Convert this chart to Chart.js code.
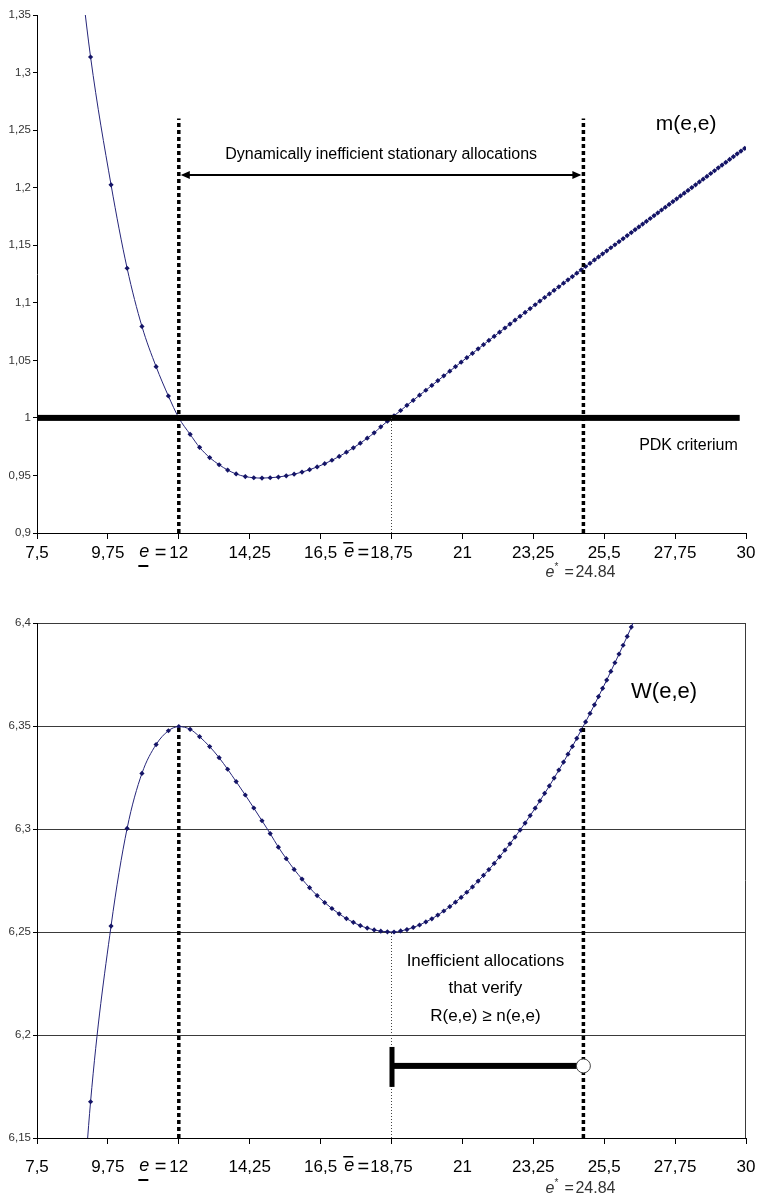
<!DOCTYPE html>
<html>
<head>
<meta charset="utf-8">
<script src="https://cdn.jsdelivr.net/npm/chart.js@4.4.1/dist/chart.umd.min.js"></script>
<style>
    body { margin: 0; background: #fff; }
    canvas { position: absolute; left: 0; }
    #topChart { top: 0; }
    #bottomChart { top: 600px; }
</style>
</head>
<body>
<canvas id="topChart" width="758" height="600"></canvas>
<canvas id="bottomChart" width="758" height="593"></canvas>
<script>
// values
const xTicks = [7.5, 9.75, 12, 14.25, 16.5, 18.75, 21, 23.25, 25.5, 27.75, 30];
const mTicks = [0.9, 0.95, 1, 1.05, 1.1, 1.15, 1.2, 1.25, 1.3, 1.35];
const wTicks = [6.15, 6.2, 6.25, 6.3, 6.35, 6.4];

const eValues = [8.70, 9.20, 9.85, 10.36, 10.83, 11.28, 11.67, 12.00, 12.36, 12.66,
    12.98, 13.28, 13.55, 13.82, 14.11, 14.38, 14.64, 14.90, 15.16, 15.41,
    15.66, 15.91, 16.15, 16.39, 16.63, 16.86, 17.09, 17.32, 17.54, 17.76,
    17.98, 18.20, 18.41, 18.62, 18.83, 19.04, 19.24, 19.44, 19.64, 19.84,
    20.03, 20.22, 20.41, 20.60, 20.78, 20.96, 21.14, 21.32, 21.50, 21.67,
    21.84, 22.01, 22.18, 22.35, 22.51, 22.67, 22.83, 22.99, 23.15, 23.31,
    23.46, 23.61, 23.76, 23.91, 24.06, 24.21, 24.35, 24.49, 24.63, 24.77,
    24.91, 25.05, 25.19, 25.32, 25.45, 25.58, 25.71, 25.84, 25.97, 26.10,
    26.23, 26.36, 26.48, 26.60, 26.72, 26.84, 26.96, 27.08, 27.20, 27.32,
    27.44, 27.56, 27.68, 27.80, 27.92, 28.04, 28.16, 28.28, 28.40, 28.52,
    28.64, 28.76, 28.88, 29.00, 29.12, 29.24, 29.36, 29.48, 29.60, 29.72,
    29.84, 29.96];

const mValues = [1.430, 1.3135, 1.2025, 1.130, 1.0795, 1.0445, 1.019, 1.000, 0.9857, 0.9744,
    0.9655, 0.9593, 0.9547, 0.9513, 0.9490, 0.9480, 0.9477, 0.9480, 0.9486, 0.9497,
    0.9511, 0.9529, 0.9550, 0.9574, 0.9602, 0.9632, 0.9665, 0.9702, 0.9740, 0.9780,
    0.9824, 0.9870, 0.9922, 0.9971, 1.0018, 1.0064, 1.0109, 1.0153, 1.0197, 1.0240,
    1.0282, 1.0323, 1.0365, 1.0406, 1.0445, 1.0484, 1.0523, 1.0561, 1.0600, 1.0636,
    1.0673, 1.0709, 1.0745, 1.0781, 1.0815, 1.0849, 1.0882, 1.0916, 1.0950, 1.0983,
    1.1015, 1.1046, 1.1077, 1.1108, 1.1139, 1.1170, 1.1199, 1.1228, 1.1257, 1.1286,
    1.1315, 1.1343, 1.1372, 1.1398, 1.1425, 1.1451, 1.1478, 1.1504, 1.1531, 1.1557,
    1.1584, 1.1610, 1.1635, 1.1659, 1.1684, 1.1708, 1.1732, 1.1757, 1.1781, 1.1806,
    1.1830, 1.1854, 1.1879, 1.1903, 1.1928, 1.1952, 1.1976, 1.2001, 1.2025, 1.2050,
    1.2074, 1.2098, 1.2123, 1.2147, 1.2172, 1.2196, 1.2220, 1.2245, 1.2269, 1.2294,
    1.2318, 1.2342];

const wValues = [6.058, 6.1676, 6.2529, 6.3003, 6.3270, 6.3410, 6.3477, 6.3497, 6.3484, 6.3448,
    6.3400, 6.3346, 6.3290, 6.3230, 6.3165, 6.3102, 6.3040, 6.2978, 6.2912, 6.2856,
    6.2804, 6.2757, 6.2715, 6.2677, 6.2643, 6.2614, 6.2588, 6.2565, 6.2547, 6.2531,
    6.2519, 6.2510, 6.2504, 6.2501, 6.2500, 6.2505, 6.2512, 6.2522, 6.2534, 6.2549,
    6.2564, 6.2582, 6.2602, 6.2623, 6.2645, 6.2668, 6.2693, 6.2719, 6.2747, 6.2775,
    6.2803, 6.2833, 6.2865, 6.2897, 6.2928, 6.2961, 6.2995, 6.3029, 6.3065, 6.3101,
    6.3137, 6.3173, 6.3209, 6.3247, 6.3286, 6.3325, 6.3363, 6.3401, 6.3440, 6.3480,
    6.3520, 6.3561, 6.3603, 6.3643, 6.3683, 6.3723, 6.3765, 6.3807, 6.3849, 6.3892,
    6.3935, 6.3980, 6.4021, 6.4063];

// marked levels
const eLow = 12, eBar = 18.75, eStar = 24.84;
const pdkLevel = 1;

const FONT = '"Liberation Sans", Arial, sans-serif';
const LINE_COLOR = '#26267a';
const MARK_COLOR = '#141466';

function toPoints(xs, ys) {
    let pts = [];
    for (let n = 0; n < ys.length; n++) {
        pts.push({ x: xs[n], y: ys[n] });
    }
    return pts;
}

function fmt(v) {
    return String(Number(Number(v).toFixed(2))).replace('.', ',');
}

function makeOptions(yMin, yMax, yTicks, topPad, xHeight, labelPad, yGrid, notes) {
    return {
        responsive: false,
        animation: false,
        events: [],
        layout: { padding: { top: topPad, right: 12, bottom: 0, left: 0 } },
        plugins: {
            legend: { display: false },
            tooltip: { enabled: false },
            axisNotes: notes
        },
        scales: {
            x: {
                type: 'linear',
                min: 7.5,
                max: 30,
                afterBuildTicks: (s) => { s.ticks = xTicks.map(v => ({ value: v })); },
                afterFit: (s) => {
                    s.height = xHeight;
                    s.paddingLeft = 0;
                    s.paddingRight = 0;
                },
                grid: { drawOnChartArea: false, tickLength: 6, color: '#000', tickColor: '#000' },
                border: { display: true, color: '#000', width: 1 },
                ticks: {
                    autoSkip: false, maxRotation: 0, padding: labelPad,
                    color: '#000', font: { family: FONT, size: 17 },
                    callback: (v) => fmt(v)
                }
            },
            y: {
                min: yMin,
                max: yMax,
                afterBuildTicks: (s) => { s.ticks = yTicks.map(v => ({ value: v })); },
                afterFit: (s) => { s.width = 37; },
                grid: { drawOnChartArea: yGrid, tickLength: 4, color: '#3a3a3a', tickColor: '#000' },
                border: { display: true, color: '#000', width: 1 },
                ticks: {
                    padding: 2, color: '#333',
                    font: { family: FONT, size: 11.5 },
                    callback: (v) => fmt(v)
                }
            }
        }
    };
}

function lineDataset(points) {
    return {
        data: points,
        borderColor: LINE_COLOR,
        borderWidth: 1,
        pointStyle: 'rectRot',
        pointRadius: 2.6,
        pointBackgroundColor: MARK_COLOR,
        pointBorderColor: MARK_COLOR,
        pointBorderWidth: 0,
        cubicInterpolationMode: 'monotone',
        clip: 0
    };
}

function vLine(ctx, px, y1, y2, width, dash, color) {
    ctx.save();
    ctx.strokeStyle = color;
    ctx.lineWidth = width;
    ctx.setLineDash(dash);
    ctx.beginPath();
    ctx.moveTo(px, y2);
    ctx.lineTo(px, y1);
    ctx.stroke();
    ctx.restore();
}

function text(ctx, str, px, py, font, align, color) {
    ctx.font = font;
    ctx.textAlign = align;
    ctx.textBaseline = 'middle';
    ctx.fillStyle = color || '#000';
    ctx.fillText(str, px, py);
}

// extra text under the x axis: e = 12, e bar = 18,75, e* = 24.84
const axisNotes = {
    id: 'axisNotes',
    afterDraw(chart, args, opts) {
        const ctx = chart.ctx, x = chart.scales.x;
        const ly = x.top + opts.labelDy, sy = x.top + opts.starDy;
        ctx.save();
        ctx.font = '17px ' + FONT;
        let left12 = x.getPixelForValue(eLow) - ctx.measureText('12').width / 2;
        text(ctx, '=', left12 - 3, ly, '20px ' + FONT, 'right');
        text(ctx, 'e', left12 - 20, ly - 1, 'italic 18px ' + FONT, 'right');
        ctx.fillRect(left12 - 31, ly + 12, 10, 2);

        ctx.font = '17px ' + FONT;
        let left18 = x.getPixelForValue(eBar) - ctx.measureText('18,75').width / 2;
        text(ctx, '=', left18 - 1, ly, '20px ' + FONT, 'right');
        text(ctx, 'e', left18 - 16, ly - 1, 'italic 18px ' + FONT, 'right');
        ctx.fillRect(left18 - 27, ly - 11, 10, 1.5);

        let sx = x.getPixelForValue(eStar) - 38;
        text(ctx, 'e', sx, sy, 'italic 16px ' + FONT, 'left', '#333');
        text(ctx, '*', sx + 9, sy - 6, '10px ' + FONT, 'left', '#333');
        text(ctx, '=', sx + 19, sy, '16px ' + FONT, 'left', '#333');
        text(ctx, '24.84', sx + 30, sy, '16px ' + FONT, 'left', '#333');
        ctx.restore();
    }
};

// top chart marks
const dotTop = 1.26, arrowLevel = 1.211, pdkEnd = 29.8;
const topMarks = {
    id: 'topMarks',
    afterDatasetsDraw(chart) {
        const ctx = chart.ctx, x = chart.scales.x, y = chart.scales.y, area = chart.chartArea;
        ctx.save();
        ctx.fillStyle = '#000';
        let py = y.getPixelForValue(pdkLevel);
        ctx.fillRect(area.left, py - 3, x.getPixelForValue(pdkEnd) - area.left, 6);

        let xl = x.getPixelForValue(eLow), xs = x.getPixelForValue(eStar), xb = x.getPixelForValue(eBar);
        vLine(ctx, xl, y.getPixelForValue(dotTop), area.bottom, 3.5, [4, 3], '#000');
        vLine(ctx, xs, y.getPixelForValue(dotTop), area.bottom, 3.5, [4, 3], '#000');
        vLine(ctx, xb, py, area.bottom, 1, [1, 2], '#444');

        // double arrow
        let ay = y.getPixelForValue(arrowLevel);
        ctx.strokeStyle = '#000';
        ctx.lineWidth = 2;
        ctx.beginPath();
        ctx.moveTo(xl + 4, ay);
        ctx.lineTo(xs - 4, ay);
        ctx.stroke();
        ctx.beginPath();
        ctx.moveTo(xl + 2, ay);
        ctx.lineTo(xl + 11, ay - 4);
        ctx.lineTo(xl + 11, ay + 4);
        ctx.closePath();
        ctx.fill();
        ctx.beginPath();
        ctx.moveTo(xs - 2, ay);
        ctx.lineTo(xs - 11, ay - 4);
        ctx.lineTo(xs - 11, ay + 4);
        ctx.closePath();
        ctx.fill();

        text(ctx, 'Dynamically inefficient stationary allocations', (xl + xs) / 2,
            y.getPixelForValue(1.2284), '16px ' + FONT, 'center');
        text(ctx, 'm(e,e)', x.getPixelForValue(28.1), y.getPixelForValue(1.2553), '21px ' + FONT, 'center');
        text(ctx, 'PDK criterium', x.getPixelForValue(29.74), y.getPixelForValue(0.9755), '16px ' + FONT, 'right');
        ctx.restore();
    }
};

// bottom chart marks
const segLevel = 6.185, barTop = 6.1942, barBottom = 6.1748;
const bottomMarks = {
    id: 'bottomMarks',
    afterDatasetsDraw(chart) {
        const ctx = chart.ctx, x = chart.scales.x, y = chart.scales.y, area = chart.chartArea;
        ctx.save();
        ctx.strokeStyle = '#3a3a3a';
        ctx.lineWidth = 1;
        ctx.beginPath();
        ctx.moveTo(area.right - 0.5, area.top);
        ctx.lineTo(area.right - 0.5, area.bottom);
        ctx.stroke();

        let xl = x.getPixelForValue(eLow), xs = x.getPixelForValue(eStar), xb = x.getPixelForValue(eBar);
        vLine(ctx, xl, y.getPixelForValue(6.35), area.bottom, 3.5, [4, 3], '#000');
        vLine(ctx, xs, y.getPixelForValue(6.35), area.bottom, 3.5, [4, 3], '#000');
        vLine(ctx, xb, y.getPixelForValue(6.25), area.bottom, 1, [1, 2], '#444');

        let sy = y.getPixelForValue(segLevel);
        ctx.fillStyle = '#000';
        ctx.fillRect(xb, sy - 3, xs - xb, 6);
        let t1 = y.getPixelForValue(barTop), t2 = y.getPixelForValue(barBottom);
        ctx.fillRect(xb - 2, t1, 5, t2 - t1);
        ctx.beginPath();
        ctx.arc(xs, sy, 7, 0, Math.PI * 2);
        ctx.fillStyle = '#fff';
        ctx.fill();
        ctx.strokeStyle = '#444';
        ctx.lineWidth = 1;
        ctx.stroke();

        let tx = x.getPixelForValue(21.73);
        text(ctx, 'Inefficient allocations', tx, y.getPixelForValue(6.236), '17px ' + FONT, 'center');
        text(ctx, 'that verify', tx, y.getPixelForValue(6.2226), '17px ' + FONT, 'center');
        text(ctx, 'R(e,e) \u2265 n(e,e)', tx, y.getPixelForValue(6.2092), '17px ' + FONT, 'center');
        text(ctx, 'W(e,e)', x.getPixelForValue(27.4), y.getPixelForValue(6.3665), '22px ' + FONT, 'center');
        ctx.restore();
    }
};

function drawCharts() {
    new Chart(document.getElementById('topChart'), {
        type: 'line',
        data: { datasets: [lineDataset(toPoints(eValues, mValues))] },
        options: makeOptions(0.9, 1.35, mTicks, 15, 67, 4, false, { labelDy: 20, starDy: 40 }),
        plugins: [topMarks, axisNotes]
    });

    new Chart(document.getElementById('bottomChart'), {
        type: 'line',
        data: { datasets: [lineDataset(toPoints(eValues, wValues))] },
        options: makeOptions(6.15, 6.4, wTicks, 23, 55, 13, true, { labelDy: 29, starDy: 51 }),
        plugins: [bottomMarks, axisNotes]
    });
}

drawCharts();
</script>
</body>
</html>
